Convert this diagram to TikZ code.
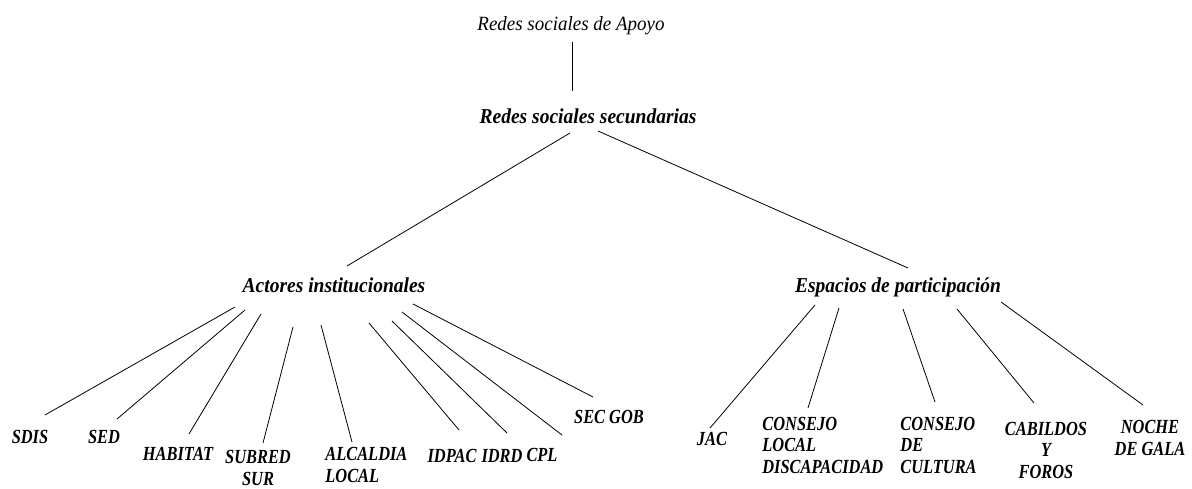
\documentclass[tikz,border=0pt]{standalone}
\usepackage{fontspec}
\setmainfont{Liberation Serif}
\newfontfamily\titulofont{Liberation Serif}[FakeStretch=0.94]
\newfontfamily\grupofont{Liberation Serif}[FakeStretch=0.92]
\newfontfamily\hojafont{Liberation Serif}[FakeStretch=0.82]
\usepackage{tikz}

\begin{document}
\begin{tikzpicture}[x=1pt,y=-1pt,line width=0.8pt]
				\tikzstyle{titulo}=[inner sep=0pt,font=\titulofont\fontsize{20.2}{23}\selectfont\itshape]
				\tikzstyle{grupo}=[inner sep=0pt,font=\grupofont\fontsize{21.2}{23}\selectfont\bfseries\itshape]
				\tikzstyle{hoja}=[inner sep=0pt,font=\hojafont\fontsize{20}{21.5}\selectfont\bfseries\itshape]

				\useasboundingbox (0,0) rectangle (1192,489);

				\node [titulo,anchor=base] (apoyo) at (571,31) {Redes sociales de Apoyo};
				\node [grupo,anchor=base] (sec) at (588,124) {Redes sociales secundarias};

				\node [grupo,anchor=base] (act) at (334,292) {Actores institucionales};
				\node [grupo,anchor=base] (esp) at (898,293) {Espacios de participación};

				% actores
				\node [hoja,anchor=base] (sdis) at (30,443) {SDIS};
				\node [hoja,anchor=base] (sed) at (104,443) {SED};
				\node [hoja,anchor=base] (hab) at (178,460) {HABITAT};
				\node [hoja,anchor=base,align=center] (sub) at (258,485) {SUBRED\\SUR};
				\node [hoja,anchor=base west,align=left] (alc) at (325,482) {ALCALDIA\\LOCAL};
				\node [hoja,anchor=base] (idpac) at (452,462) {IDPAC};
				\node [hoja,anchor=base] (idrd) at (502,462) {IDRD};
				\node [hoja,anchor=base] (cpl) at (542,461) {CPL};
				\node [hoja,anchor=base] (secgob) at (609,423) {SEC GOB};

				% espacios
				\node [hoja,anchor=base] (jac) at (712,445) {JAC};
				\node [hoja,anchor=base west,align=left] (cld) at (762,473) {CONSEJO\\LOCAL\\DISCAPACIDAD};
				\node [hoja,anchor=base west,align=left] (ccu) at (900,473) {CONSEJO\\DE\\CULTURA};
				\node [hoja,anchor=base,align=center] (cab) at (1046,478) {CABILDOS\\Y\\FOROS};
				\node [hoja,anchor=base,align=center] (noche) at (1150,455) {NOCHE\\DE GALA};

				\draw ([shift={(1,11)}]apoyo.base) -- ([shift={(-16,-33)}]sec.base);
				\draw ([shift={(-18,9)}]sec.base) -- ([shift={(13,-26)}]act.base);
				\draw ([shift={(10,7)}]sec.base) -- ([shift={(10,-25)}]esp.base);

				\draw ([shift={(-99,15)}]act.base) -- ([shift={(15,-28)}]sdis.base);
				\draw ([shift={(-89,18)}]act.base) -- ([shift={(13,-24)}]sed.base);
				\draw ([shift={(-73,22)}]act.base) -- ([shift={(11,-26)}]hab.base);
				\draw ([shift={(-41,35)}]act.base) -- ([shift={(5,-42)}]sub.base);
				\draw ([shift={(-13,33)}]act.base) -- ([shift={(27,-40)}]alc.base west);
				\draw ([shift={(35,31)}]act.base) -- ([shift={(7,-32)}]idpac.base);
				\draw ([shift={(58,29)}]act.base) -- ([shift={(5,-29)}]idrd.base);
				\draw ([shift={(68,20)}]act.base) -- ([shift={(20,-26)}]cpl.base);
				\draw ([shift={(79,12)}]act.base) -- ([shift={(-16,-26)}]secgob.base);

				\draw ([shift={(-83,12)}]esp.base) -- ([shift={(-2,-17)}]jac.base);
				\draw ([shift={(-59,15)}]esp.base) -- ([shift={(46,-65)}]cld.base west);
				\draw ([shift={(5,16)}]esp.base) -- ([shift={(35,-71)}]ccu.base west);
				\draw ([shift={(59,16)}]esp.base) -- ([shift={(-12,-75)}]cab.base);
				\draw ([shift={(103,9)}]esp.base) -- ([shift={(-7,-50)}]noche.base);

			\end{tikzpicture}
\end{document}
